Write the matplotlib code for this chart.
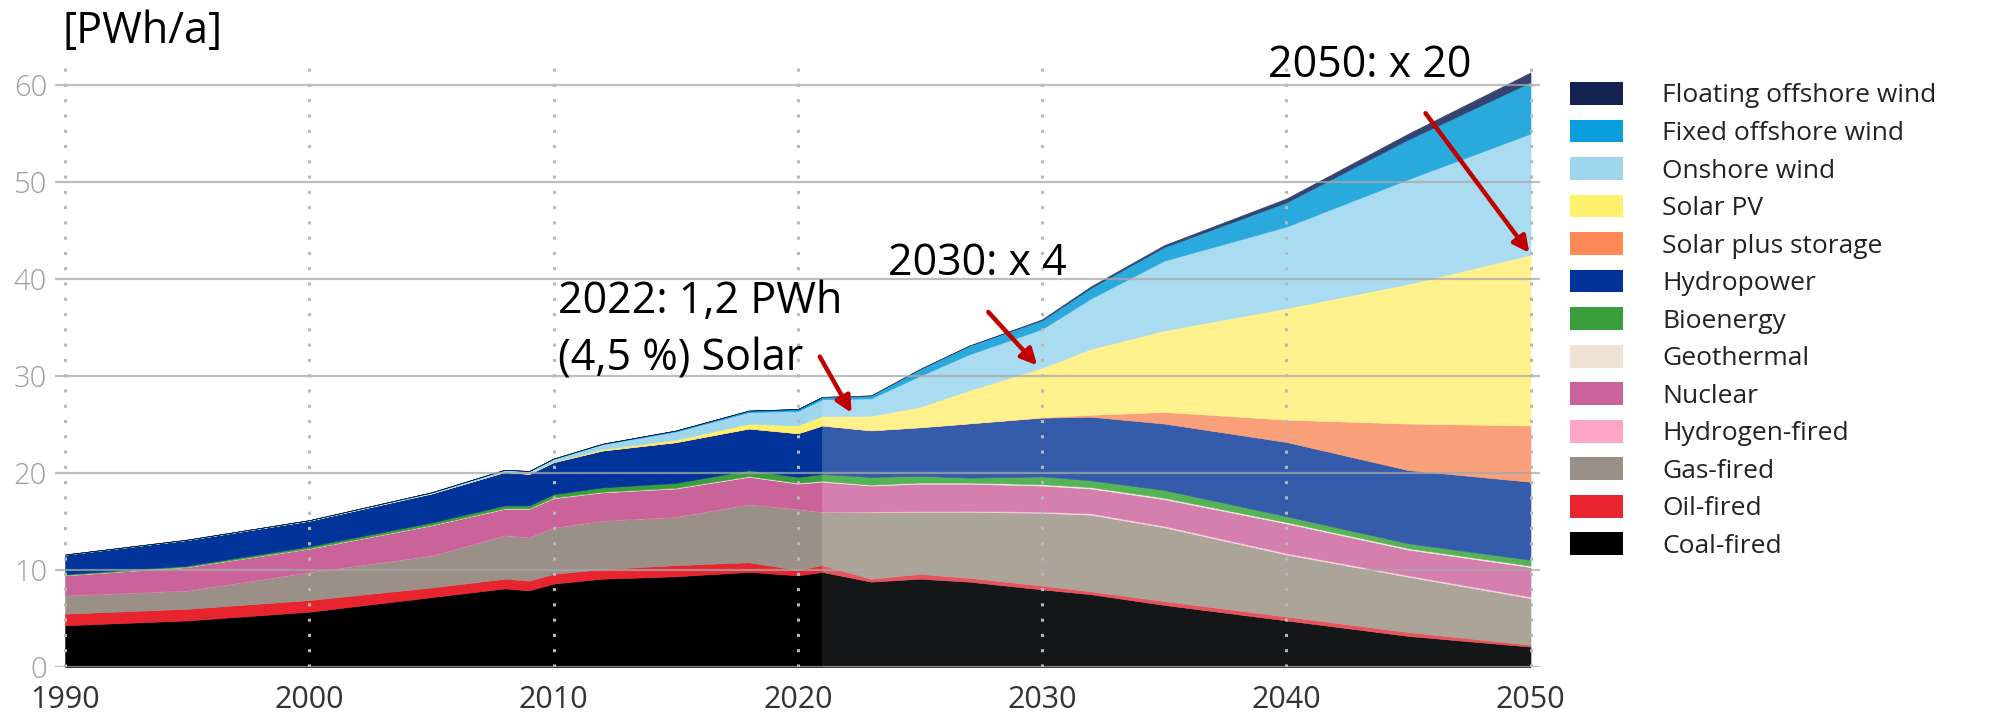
import matplotlib
matplotlib.use("Agg")
import matplotlib.pyplot as plt
from matplotlib.patches import Patch
import numpy as np

plt.rcParams['font.family'] = ['Open Sans', 'DejaVu Sans']

# ---- data (PWh per year, stacked bottom -> top) ----
years = [1990, 1995, 2000, 2005, 2008, 2009, 2010, 2012, 2015, 2018, 2020, 2021,
         2023, 2025, 2027, 2030, 2032, 2035, 2040, 2045, 2050]
coal = [4.3, 4.8, 5.7, 7.2, 8.1, 7.9, 8.6, 9.1, 9.35, 9.8, 9.45, 9.8,
        8.8, 9.1, 8.8, 8.0, 7.5, 6.4, 4.8, 3.2, 2.1]
oil = [1.2, 1.2, 1.2, 1.0, 1.0, 1.0, 1.0, 1.0, 1.15, 1.0, 0.55, 0.7,
       0.3, 0.5, 0.4, 0.4, 0.3, 0.4, 0.4, 0.4, 0.2]
gas = [1.9, 1.9, 2.9, 3.3, 4.5, 4.5, 4.8, 5.0, 5.0, 6.0, 6.3, 5.5,
       6.9, 6.4, 6.8, 7.5, 7.9, 7.6, 6.4, 5.7, 4.8]
hydrogen = [0, 0, 0, 0, 0, 0, 0, 0, 0, 0, 0, 0,
            0.03, 0.05, 0.08, 0.12, 0.15, 0.15, 0.15, 0.15, 0.15]
nuclear = [2.05, 2.4, 2.4, 3.1, 2.7, 2.9, 3.0, 2.9, 2.9, 2.8, 2.6, 3.1,
           2.67, 2.85, 2.82, 2.68, 2.55, 2.75, 3.05, 2.65, 3.05]
geothermal = [0.03, 0.03, 0.04, 0.05, 0.06, 0.06, 0.07, 0.07, 0.08, 0.09, 0.1, 0.1,
              0.1, 0.12, 0.12, 0.15, 0.15, 0.15, 0.15, 0.15, 0.15]
bioenergy = [0.1, 0.12, 0.2, 0.25, 0.3, 0.3, 0.35, 0.45, 0.5, 0.6, 0.6, 0.7,
             0.8, 0.7, 0.5, 0.8, 0.7, 0.8, 0.6, 0.5, 0.6]
hydro = [2.0, 2.65, 2.65, 3.0, 3.45, 3.25, 3.3, 3.8, 4.2, 4.3, 4.5, 5.0,
         4.8, 5.0, 5.6, 6.05, 6.55, 6.85, 7.65, 7.55, 8.05]
solar_storage = [0, 0, 0, 0, 0, 0, 0, 0, 0, 0, 0, 0,
                 0, 0, 0, 0.05, 0.2, 1.2, 2.3, 4.8, 5.8]
solar_pv = [0, 0, 0, 0, 0.01, 0.02, 0.04, 0.15, 0.25, 0.5, 0.8, 1.0,
            1.5, 2.1, 3.4, 5.1, 6.8, 8.4, 11.5, 14.4, 17.6]
onshore = [0.02, 0.03, 0.05, 0.1, 0.2, 0.25, 0.3, 0.5, 0.85, 1.2, 1.5, 1.7,
           1.8, 3.2, 3.7, 4.0, 5.2, 7.2, 8.4, 10.8, 12.5]
fixed_offshore = [0, 0, 0, 0.01, 0.02, 0.03, 0.03, 0.05, 0.1, 0.15, 0.2, 0.25,
                  0.3, 0.7, 0.9, 0.9, 1.1, 1.4, 2.5, 4.1, 5.3]
floating_offshore = [0, 0, 0, 0, 0, 0, 0, 0, 0, 0, 0, 0,
                     0, 0, 0, 0.1, 0.15, 0.2, 0.4, 0.6, 1.0]

labels = ['Coal-fired', 'Oil-fired', 'Gas-fired', 'Hydrogen-fired', 'Nuclear',
          'Geothermal', 'Bioenergy', 'Hydropower', 'Solar plus storage',
          'Solar PV', 'Onshore wind', 'Fixed offshore wind', 'Floating offshore wind']
hist_colors = ['#000000', '#E8242E', '#9A9088', '#FFA6C8', '#C96399', '#EEE3D5',
               '#3A9E3A', '#00349A', '#FF8A57', '#FFF06E', '#9FD6EE', '#0A9EDC', '#14224F']
fc_colors = ['#141618', '#E8545C', '#ACA498', '#FAD3E2', '#D47FAE', '#EFE8DE',
             '#56B356', '#345CAA', '#F9A07A', '#FFF28E', '#AADCF1', '#2AA9DD', '#34436F']
split_year = 2021

series = np.array([coal, oil, gas, hydrogen, nuclear, geothermal, bioenergy, hydro,
                   solar_storage, solar_pv, onshore, fixed_offshore, floating_offshore])
yrs = np.array(years)
k = years.index(split_year)

fig = plt.figure(figsize=(19.97, 7.21), dpi=100, facecolor='white')
ax = fig.add_axes([0.0277, 0.0749, 0.7436, 0.8475])

# history and forecast are drawn in slightly different shades
ax.stackplot(yrs[:k + 1], series[:, :k + 1], colors=hist_colors,
             edgecolor='face', linewidth=0.4, zorder=1)
ax.stackplot(yrs[k:], series[:, k:], colors=fc_colors,
             edgecolor='face', linewidth=0.4, zorder=1)

ax.set_xlim(1989.6, 2050.4)
ax.set_ylim(0, 63)
ax.set_xticks(range(1990, 2051, 10))
ax.set_yticks(range(0, 61, 10))
for s in ax.spines.values():
    s.set_visible(False)
ax.set_axisbelow(False)
ax.grid(axis='y', color='#a8a8a8', lw=1.6, alpha=0.75)
ax.vlines(range(1990, 2051, 10), 0, 62, colors='#b8b8b8', lw=2.2,
          linestyles=(0, (1, 4)), zorder=3)

ax.tick_params(axis='both', length=0)
ax.tick_params(axis='y', labelsize=21, labelcolor='#9e9e9e', pad=6)
ax.tick_params(axis='x', labelsize=22, labelcolor='#333333', pad=13)
for t in ax.get_yticklabels():
    t.set_fontweight('light')

# unit label and annotations
ax.text(1989.88, 64.3, '[PWh/a]', fontsize=31, va='baseline', ha='left', clip_on=False)
ax.text(2039.24, 60.8, '2050: x 20', fontsize=31, va='baseline', ha='left')
ax.text(2023.68, 40.4, '2030: x 4', fontsize=31, va='baseline', ha='left')
ax.text(2010.2, 36.5, '2022: 1,2 PWh', fontsize=31, va='baseline', ha='left')
ax.text(2010.2, 30.6, '(4,5 %) Solar', fontsize=31, va='baseline', ha='left')

arrow = dict(arrowstyle='-|>', color='#C00000', lw=3.2, mutation_scale=24,
             shrinkA=0, shrinkB=0)
ax.annotate('', xy=(2022.2, 26.2), xytext=(2020.9, 32.0), arrowprops=arrow)
ax.annotate('', xy=(2029.8, 31.1), xytext=(2027.8, 36.6), arrowprops=arrow)
ax.annotate('', xy=(2049.95, 42.7), xytext=(2045.7, 57.1), arrowprops=arrow)

handles = [Patch(facecolor=c, edgecolor='none') for c in hist_colors[::-1]]
fig.legend(handles, labels[::-1], loc='upper left',
           bbox_to_anchor=(1570 / 1997, 1 - 82 / 721), bbox_transform=fig.transFigure,
           frameon=False, fontsize=19, handlelength=2.0, handleheight=0.95,
           handletextpad=1.5, labelspacing=0.42, borderpad=0, borderaxespad=0,
           labelcolor='#222222')

fig.savefig('out.png', dpi=100, facecolor='white')
